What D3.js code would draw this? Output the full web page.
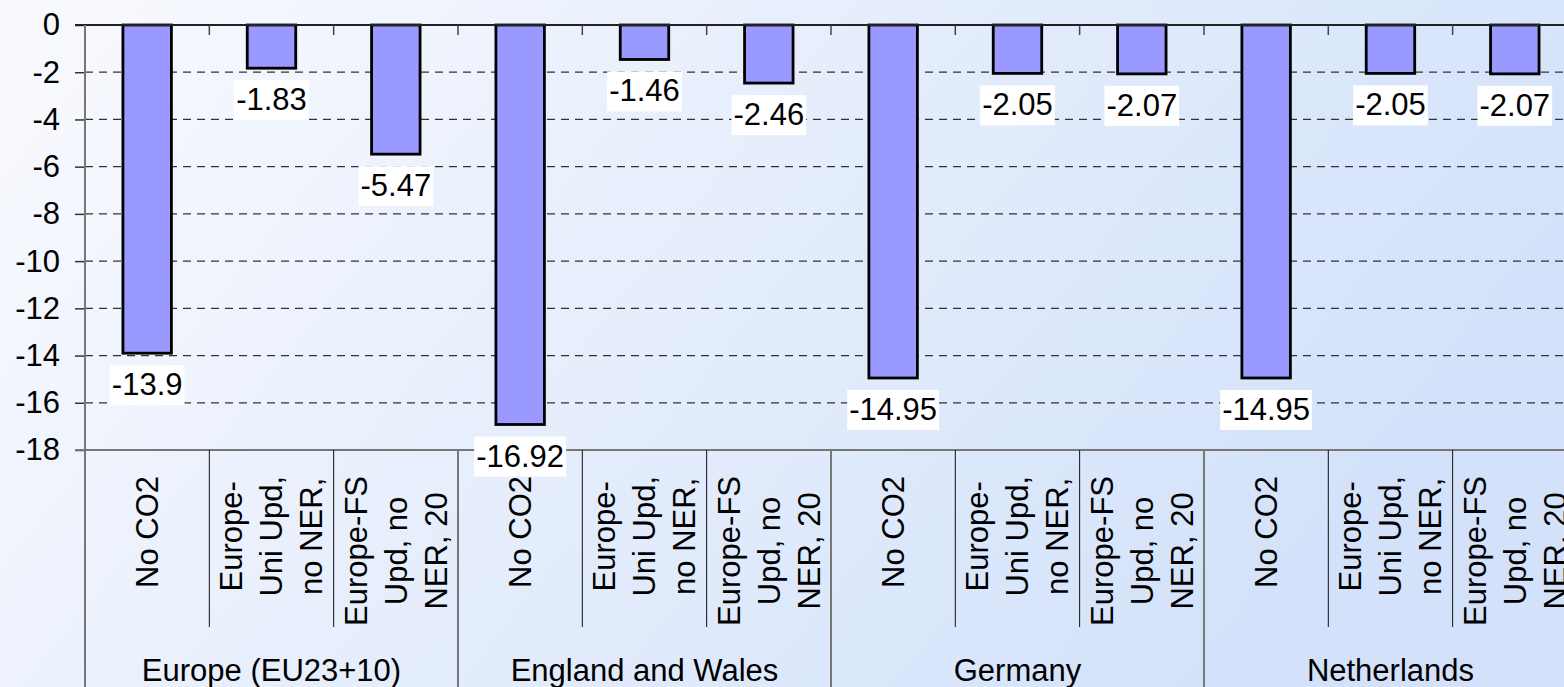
<!DOCTYPE html>
<html>
<head>
<meta charset="utf-8">
<script src="https://cdn.jsdelivr.net/npm/d3@7"></script>
<style>
  body { margin: 0; overflow: hidden; }
  svg text { font-family: "Liberation Sans", Arial, sans-serif; fill: #000; }
</style>
</head>
<body>
<div id="chart"></div>
<script>
const groups = ["Europe (EU23+10)", "England and Wales", "Germany", "Netherlands"];
const scenarioLines = [
  ["No CO2"],
  ["Europe-", "Uni Upd,", "no NER,"],
  ["Europe-FS", "Upd, no", "NER, 20"],
];
const europeValues = [-13.9, -1.83, -5.47];
const englandValues = [-16.92, -1.46, -2.46];
const germanyValues = [-14.95, -2.05, -2.07];
const netherlandsValues = [-14.95, -2.05, -2.07];
const yTicks = [0, -2, -4, -6, -8, -10, -12, -14, -16, -18];

const width = 1564;
const height = 687;
const margin = { top: 25, left: 85 };
const plotBottom = 450;
const fontSize = 31;

const seriesByGroup = [europeValues, englandValues, germanyValues, netherlandsValues];
const data = [];
groups.forEach((g, gi) => {
  seriesByGroup[gi].forEach((v, si) => {
    data.push({ group: g, gi, si, lines: scenarioLines[si], value: v });
  });
});

const svg = d3
  .select("#chart")
  .append("svg")
  .attr("width", width)
  .attr("height", height);

// background gradient
const grad = svg
  .append("defs")
  .append("linearGradient")
  .attr("id", "bg")
  .attr("x1", "0")
  .attr("y1", "0")
  .attr("x2", "1")
  .attr("y2", "0.35");
grad.append("stop").attr("offset", "0%").attr("stop-color", "#f9fafe");
grad.append("stop").attr("offset", "100%").attr("stop-color", "#d3e2fa");
svg
  .append("rect")
  .attr("width", width)
  .attr("height", height)
  .attr("fill", "url(#bg)");

const xScale = d3
  .scaleBand()
  .domain(d3.range(data.length))
  .range([margin.left, margin.left + 124.33 * data.length])
  .paddingInner(0.61)
  .paddingOuter(0.305);
const step = xScale.step();

const yScale = d3.scaleLinear().domain([0, -18]).range([margin.top, plotBottom]);

// dashed gridlines
svg
  .append("g")
  .selectAll("line")
  .data(yTicks.filter((t) => t != 0 && t != -18))
  .enter()
  .append("line")
  .attr("x1", margin.left)
  .attr("x2", width)
  .attr("y1", (d) => yScale(d))
  .attr("y2", (d) => yScale(d))
  .attr("stroke", "#333")
  .attr("stroke-width", 1.2)
  .attr("stroke-dasharray", "8,6");

// y axis
const yAxis = svg
  .append("g")
  .attr("transform", `translate(${margin.left},0)`)
  .call(
    d3
      .axisLeft(yScale)
      .tickValues(yTicks)
      .tickSize(10)
      .tickPadding(15)
      .tickFormat((d) => d.toString())
  );
yAxis.select(".domain").remove();
yAxis.selectAll(".tick line").attr("stroke", "#333").attr("stroke-width", 1.5);
yAxis
  .selectAll(".tick text")
  .style("font-size", `${fontSize}px`)
  .style("font-family", "'Liberation Sans', Arial, sans-serif");

// bars
svg
  .append("g")
  .selectAll("rect")
  .data(data)
  .enter()
  .append("rect")
  .attr("x", (d, i) => xScale(i))
  .attr("width", xScale.bandwidth())
  .attr("y", yScale(0))
  .attr("height", (d) => yScale(d.value) - yScale(0))
  .attr("fill", "#9999ff")
  .attr("stroke", "#000")
  .attr("stroke-width", 2.8);

// category boundaries
const boundaries = d3.range(data.length + 1).map((i) => margin.left + i * step);

// zero line with small tick marks
svg
  .append("line")
  .attr("x1", margin.left - 10)
  .attr("x2", width)
  .attr("y1", yScale(0))
  .attr("y2", yScale(0))
  .attr("stroke", "#222")
  .attr("stroke-width", 2);
svg
  .append("g")
  .selectAll("line")
  .data(boundaries.slice(1))
  .enter()
  .append("line")
  .attr("x1", (d) => d)
  .attr("x2", (d) => d)
  .attr("y1", yScale(0))
  .attr("y2", yScale(0) + 10)
  .attr("stroke", "#444")
  .attr("stroke-width", 1.5);

// bottom line and label separators
svg
  .append("line")
  .attr("x1", margin.left - 10)
  .attr("x2", width)
  .attr("y1", plotBottom)
  .attr("y2", plotBottom)
  .attr("stroke", "#777")
  .attr("stroke-width", 2);

svg
  .append("g")
  .selectAll("line")
  .data(boundaries)
  .enter()
  .append("line")
  .attr("x1", (d) => d)
  .attr("x2", (d) => d)
  .attr("y1", (d, i) => (i == 0 ? margin.top : plotBottom))
  .attr("y2", (d, i) => (i % 3 == 0 ? height : 627))
  .attr("stroke", (d, i) => (i % 3 == 0 ? "#777" : "#111"))
  .attr("stroke-width", (d, i) => (i % 3 == 0 ? 2 : 1));

// rotated scenario labels
const labelTop = 476;
const lineGap = 40;
data.forEach((d, i) => {
  const cx = xScale(i) + xScale.bandwidth() / 2;
  const g = svg
    .append("g")
    .attr("transform", `translate(${cx},${labelTop})rotate(-90)`);
  const texts = d.lines.map((line, li) =>
    g
      .append("text")
      .attr("text-anchor", "middle")
      .attr("y", (li - (d.lines.length - 1) / 2) * lineGap + 11)
      .style("font-size", `${fontSize}px`)
      .text(line)
  );
  const maxLen = d3.max(texts, (t) => t.node().getComputedTextLength());
  texts.forEach((t) => t.attr("x", -maxLen / 2));
});

// group labels
svg
  .append("g")
  .selectAll("text")
  .data(groups)
  .enter()
  .append("text")
  .attr("x", (d, i) => margin.left + (i * 3 + 1.5) * step)
  .attr("y", 681)
  .attr("text-anchor", "middle")
  .style("font-size", `${fontSize}px`)
  .text((d) => d);

// value labels with white boxes
data.forEach((d, i) => {
  const cx = xScale(i) + xScale.bandwidth() / 2;
  const end = yScale(d.value);
  const lg = svg.append("g");
  const box = lg.append("rect").attr("fill", "#fff");
  const t = lg
    .append("text")
    .attr("x", cx)
    .attr("y", end + 42)
    .attr("text-anchor", "middle")
    .style("font-size", `${fontSize}px`)
    .text(d.value.toString());
  const bb = t.node().getBBox();
  box
    .attr("x", bb.x - 2)
    .attr("width", bb.width + 4)
    .attr("y", end + 12)
    .attr("height", 40);
});
</script>
</body>
</html>
